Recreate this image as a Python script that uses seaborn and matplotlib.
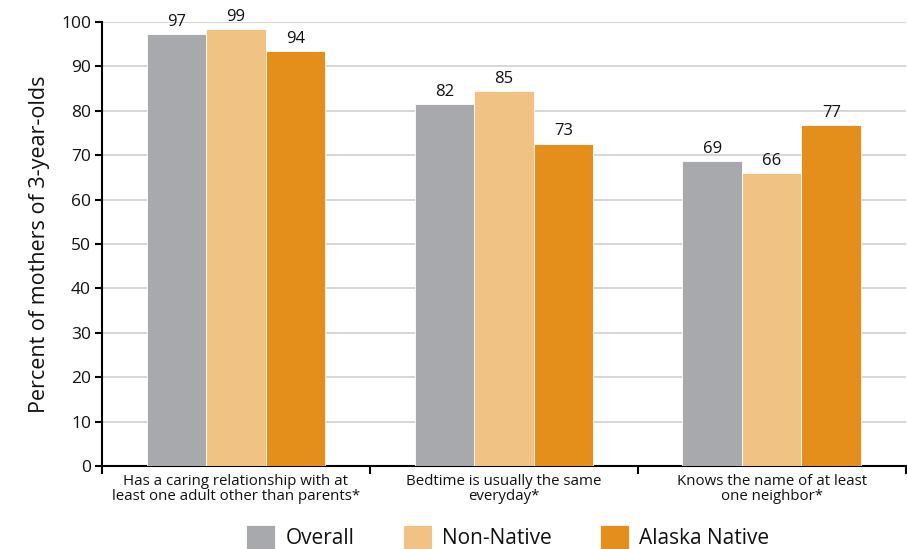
import numpy as np
import pandas as pd
import matplotlib
matplotlib.use("Agg")
import matplotlib.pyplot as plt
import seaborn as sns

categories = [
    "Has a caring relationship with at\nleast one adult other than parents*",
    "Bedtime is usually the same\neveryday*",
    "Knows the name of at least\none neighbor*",
]
groups = ["Overall", "Non-Native", "Alaska Native"]
overall = [97.2, 81.5, 68.7]
non_native = [98.4, 84.5, 66.0]
alaska_native = [93.4, 72.6, 76.7]
label_overall = ["97", "82", "69"]
label_non_native = ["99", "85", "66"]
label_alaska = ["94", "73", "77"]
colors = ["#A8A9AD", "#F0C283", "#E48F1C"]

df = pd.DataFrame({
    "category": categories * 3,
    "group": np.repeat(groups, 3),
    "value": overall + non_native + alaska_native,
})

sns.set_theme(style="white")
plt.rcParams["font.family"] = ["Open Sans", "DejaVu Sans"]
plt.rcParams["text.color"] = "#111111"
plt.rcParams["axes.labelcolor"] = "#111111"
plt.rcParams["xtick.color"] = "#111111"
plt.rcParams["ytick.color"] = "#111111"

fig = plt.figure(figsize=(9.07, 5.49), dpi=100)
ax = fig.add_axes([0.1125, 0.151, 0.886, 0.809])

sns.barplot(data=df, x="category", y="value", hue="group", order=categories,
            hue_order=groups, palette=colors, width=0.667, gap=0,
            saturation=1, edgecolor="white", linewidth=0.6, ax=ax, zorder=3)

# value labels
for container, labs in zip(ax.containers, [label_overall, label_non_native, label_alaska]):
    ax.bar_label(container, labels=labs, padding=3, fontsize=12)

ax.set_ylim(0, 100)
ax.set_xlim(-0.5, 2.5)
ax.set_yticks(range(0, 101, 10))
ax.tick_params(axis="y", labelsize=12.5, length=5, width=1.5, color="black", pad=3, left=True)
ax.yaxis.grid(True, color="#D0D0D0", linewidth=1.2, zorder=0)
ax.set_axisbelow(True)

# category separators as major ticks, labels on minor ticks
ax.set_xticks([-0.5, 0.5, 1.5, 2.5])
ax.set_xticklabels([])
ax.set_xticks([0, 1, 2], minor=True)
ax.set_xticklabels(categories, minor=True, fontsize=10.8, linespacing=1.0)
ax.tick_params(axis="x", which="major", length=6, width=1.5, color="black", bottom=True)
ax.tick_params(axis="x", which="minor", length=0, pad=6)

for s in ["top", "right"]:
    ax.spines[s].set_visible(False)
for s in ["left", "bottom"]:
    ax.spines[s].set_color("black")
    ax.spines[s].set_linewidth(1.5)

ax.set_xlabel("")
ax.set_ylabel("Percent of mothers of 3-year-olds", fontsize=15.5, labelpad=8)

handles, labs = ax.get_legend_handles_labels()
ax.legend_.remove()
fig.legend(handles, labs, loc="center", bbox_to_anchor=(0.56, 0.022), ncol=3,
           frameon=False, fontsize=15, handlelength=1.4, handleheight=1.4,
           columnspacing=2.3, handletextpad=0.5)

fig.savefig("out.png", dpi=100)
